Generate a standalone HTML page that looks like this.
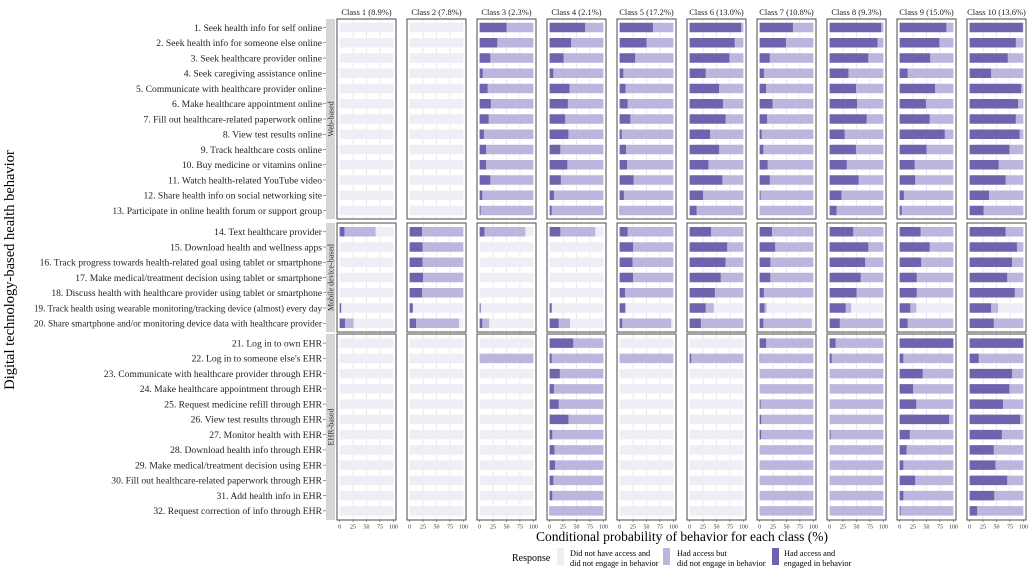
<!DOCTYPE html>
<html><head><meta charset="utf-8"><style>
body{margin:0;background:#fff}
svg{display:block;font-family:"Liberation Serif",serif}
</style></head><body>
<svg id="chart" width="1035" height="576" viewBox="0 0 1035 576" xmlns="http://www.w3.org/2000/svg">
<text transform="translate(14,270) rotate(-90)" text-anchor="middle" font-size="14.5">Digital technology-based health behavior</text>
<text x="682" y="541" text-anchor="middle" font-size="13.5">Conditional probability of behavior for each class (%)</text>
<g>
<text x="512" y="561" font-size="10">Response</text>
<rect x="557" y="548" width="7" height="17" fill="#efeef7"/>
<text x="570" y="556" font-size="8.3"><tspan x="570">Did not have access and</tspan><tspan x="570" dy="10">did not engage in behavior</tspan></text>
<rect x="663" y="548" width="7" height="17" fill="#bab6dd"/>
<text x="677" y="556" font-size="8.3"><tspan x="677">Had access but</tspan><tspan x="677" dy="10">did not engage in behavior</tspan></text>
<rect x="772" y="548" width="7" height="17" fill="#6f63ad"/>
<text x="784" y="556" font-size="8.3"><tspan x="784">Had access and</tspan><tspan x="784" dy="10">engaged in behavior</tspan></text>
</g>
</svg>
<script>
const behaviors=["1. Seek health info for self online","2. Seek health info for someone else online","3. Seek healthcare provider online","4. Seek caregiving assistance online","5. Communicate with healthcare provider online","6. Make healthcare appointment online","7. Fill out healthcare-related paperwork online","8. View test results online","9. Track healthcare costs online","10. Buy medicine or vitamins online","11. Watch health-related YouTube video","12. Share health info on social networking site","13. Participate in online health forum or support group","14. Text healthcare provider","15. Download health and wellness apps","16. Track progress towards health-related goal using tablet or smartphone","17. Make medical/treatment decision using tablet or smartphone","18. Discuss health with healthcare provider using tablet or smartphone","19. Track health using wearable monitoring/tracking device (almost) every day","20. Share smartphone and/or monitoring device data with healthcare provider","21. Log in to own EHR","22. Log in to someone else's EHR","23. Communicate with healthcare provider through EHR","24. Make healthcare appointment through EHR","25. Request medicine refill through EHR","26. View test results through EHR","27. Monitor health with EHR","28. Download health info through EHR","29. Make medical/treatment decision using EHR","30. Fill out healthcare-related paperwork through EHR","31. Add health info in EHR","32. Request correction of info through EHR"];
const groups=["Web-based","Mobile device-based","EHR-based"];
const groupSizes=[13,7,12];
const classes=["Class 1 (8.9%)","Class 2 (7.8%)","Class 3 (2.3%)","Class 4 (2.1%)","Class 5 (17.2%)","Class 6 (13.0%)","Class 7 (10.8%)","Class 8 (9.3%)","Class 9 (15.0%)","Class 10 (13.6%)"];
const xTicks=[0,25,50,75,100];
// % had access and engaged
const engaged=[
[0,0,0,0,0,0,0,0,0,0,0,0,0, 9,0,0,0,0,3,10, 0,0,0,0,0,0,0,0,0,0,0,0],
[0,0,0,0,0,0,0,0,0,0,0,0,0, 23,24,24,25,23,6,12, 0,0,0,0,0,0,0,0,0,0,0,0],
[50,33,20,6,15,21,17,8,12,12,20,5,2, 9,0,0,0,0,2,5, 0,0,0,0,0,0,0,0,0,0,0,0],
[66,40,26,7,37,34,29,35,20,33,21,8,4, 20,0,0,0,0,4,17, 44,4,19,8,17,35,5,9,10,7,5,1],
[62,50,29,7,11,15,20,4,12,14,26,8,1, 15,25,24,25,10,10,5, 0,0,0,0,0,0,0,0,0,0,0,0],
[96,84,74,30,55,62,67,38,55,35,61,25,13, 40,70,67,58,47,30,21, 0,3,0,0,0,0,0,0,0,0,0,0],
[62,49,19,8,12,24,14,4,7,15,19,2,0, 23,29,20,20,8,9,7, 12,1,0,0,2,3,3,0,0,0,0,0],
[96,89,72,35,49,51,69,28,49,32,54,22,13, 44,72,66,58,50,30,19, 11,4,0,0,0,0,2,0,0,0,0,0],
[87,74,57,15,66,49,56,84,50,28,29,8,4, 39,56,40,32,32,20,15, 100,7,43,25,31,92,19,13,7,29,7,2],
[99,86,71,40,96,90,86,93,74,54,67,36,26, 67,88,79,70,84,40,45, 100,17,79,74,62,94,60,45,48,70,46,14]
];
// % had access (engaged + not engaged)
const access=[
[0,0,0,0,0,0,0,0,0,0,0,0,0, 67,0,0,0,0,3,26, 0,0,0,0,0,0,0,0,0,0,0,0],
[0,0,0,0,0,0,0,0,0,0,0,0,0, 100,100,100,100,100,6,92, 0,0,0,0,0,0,0,0,0,0,0,0],
[100,100,100,100,100,100,100,100,100,100,100,100,100, 85,0,0,0,0,2,18, 0,100,0,0,0,0,0,0,0,0,0,0],
[100,100,100,100,100,100,100,100,100,100,100,100,100, 85,0,0,0,0,4,38, 100,100,100,100,100,100,100,100,100,100,100,100],
[100,100,100,100,100,100,100,100,100,100,100,100,100, 100,100,100,100,100,12,96, 0,100,0,0,0,0,0,0,0,0,0,0],
[100,100,100,100,100,100,100,100,100,100,100,100,100, 100,100,100,100,100,45,100, 0,100,0,0,0,0,0,0,0,0,0,0],
[100,100,100,100,100,100,100,100,100,100,100,100,100, 100,100,100,100,100,13,97, 100,100,100,100,100,100,100,100,100,100,100,100],
[100,100,100,100,100,100,100,100,100,100,100,100,100, 100,100,100,100,100,40,100, 100,100,100,100,100,100,100,100,100,100,100,100],
[100,100,100,100,100,100,100,100,100,100,100,100,100, 100,100,100,100,100,31,100, 100,100,100,100,100,100,100,100,100,100,100,100],
[100,100,100,100,100,100,100,100,100,100,100,100,100, 100,100,100,100,100,53,100, 100,100,100,100,100,100,100,100,100,100,100,100]
];
const NS="http://www.w3.org/2000/svg";
const svg=document.getElementById('chart');
function mk(t,a,p){const e=document.createElementNS(NS,t);for(const k in a)e.setAttribute(k,a[k]);(p||svg).appendChild(e);return e;}
const panelX0=337,panelW=59,panelStep=70;
const groupTop=[19,223,334],groupBot=[219,332,520];
const rowStep=15.25,barH=9.5;
const C0="#efeef7",C1="#bab6dd",C2="#6f63ad";
function xs(ci,v){const l=panelX0+ci*panelStep+2.6,r=panelX0+ci*panelStep+panelW-2.6;return l+(r-l)*v/100;}
function rowY(g,j){const top=groupTop[g],bot=groupBot[g],n=groupSizes[g];const mid=(top+bot)/2;return mid+(j-(n-1)/2)*rowStep;}
let rowIndex=0;
for(let g=0;g<3;g++){
  const st=mk('rect',{x:326,y:groupTop[g],width:9,height:groupBot[g]-groupTop[g],fill:'#d6d6d6'});
  
  
  const cy=(groupTop[g]+groupBot[g])/2;
  const stt=mk('text',{transform:`translate(333.5,${cy}) rotate(-90)`,'text-anchor':'middle','font-size':'8',fill:'#333'});
  stt.textContent=groups[g];
  
  
  for(let j=0;j<groupSizes[g];j++){
    const y=rowY(g,j);const r=rowIndex+j;
    const lb=mk('text',{x:322,y:y+3.3,'text-anchor':'end','font-size':'9.6',fill:'#222'});
    lb.textContent=behaviors[r];
    
    
    const w=lb.getComputedTextLength();
    if(w>288){lb.setAttribute('textLength','288');lb.setAttribute('lengthAdjust','spacingAndGlyphs');}
    mk('line',{x1:323,x2:326,y1:y,y2:y,stroke:'#555','stroke-width':0.6});
  }
  for(let ci=0;ci<10;ci++){
    const px=panelX0+ci*panelStep;
    const bg=mk('rect',{x:px,y:groupTop[g],width:panelW,height:groupBot[g]-groupTop[g],fill:'#fff'});
    
    
    for(const t of xTicks){if(t===0||t===100)continue;mk('line',{x1:xs(ci,t),x2:xs(ci,t),y1:groupTop[g],y2:groupBot[g],stroke:'#dcdcdc','stroke-width':0.6});}
    for(let j=0;j<groupSizes[g];j++){
      const r=rowIndex+j;const y=rowY(g,j)-barH/2;
      const e=engaged[ci][r],a=access[ci][r];
      const b0=mk('rect',{x:xs(ci,a),y:y,width:xs(ci,100)-xs(ci,a),height:barH,fill:C0});
      
      
      const b1=mk('rect',{x:xs(ci,e),y:y,width:Math.max(0,xs(ci,a)-xs(ci,e)),height:barH,fill:C1});
      
      
      const b2=mk('rect',{x:xs(ci,0),y:y,width:xs(ci,e)-xs(ci,0),height:barH,fill:C2});
      
      
    }
    const br=mk('rect',{x:px,y:groupTop[g],width:panelW,height:groupBot[g]-groupTop[g],fill:'none',stroke:'#4a4a4a','stroke-width':1});
    
    
    if(g===0){
      const h=mk('text',{x:px+panelW/2,y:15,'text-anchor':'middle','font-size':'8.5',fill:'#222'});
      h.textContent=classes[ci];
      
      
    }
    if(g===2){
      for(const t of xTicks){
        mk('line',{x1:xs(ci,t),x2:xs(ci,t),y1:520,y2:522,stroke:'#555','stroke-width':0.6});
        const tl=mk('text',{x:xs(ci,t),y:528.5,'text-anchor':'middle','font-size':'6',fill:'#333'});
        tl.textContent=t;
        
        
      }
    }
  }
  rowIndex+=groupSizes[g];
}
</script>
</body></html>
